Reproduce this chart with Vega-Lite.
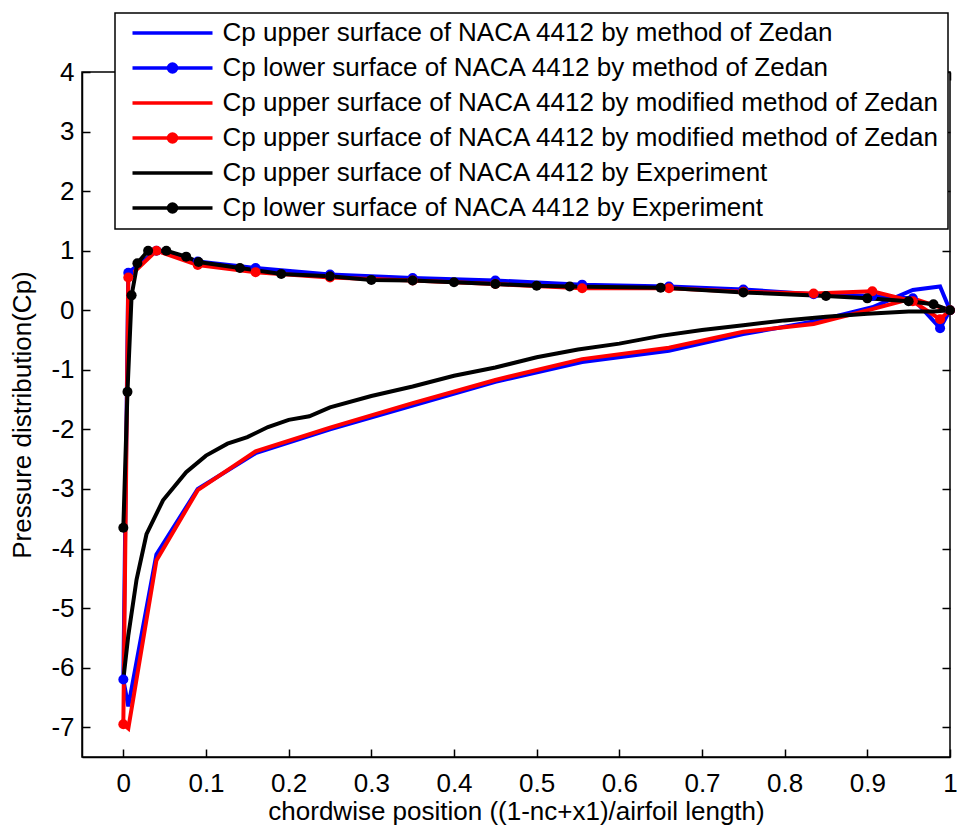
{
  "$schema": "https://vega.github.io/schema/vega-lite/v6.json",
  "width": 868,
  "height": 685,
  "autosize": {"type": "none"},
  "padding": {"left": 82, "top": 72, "right": 7, "bottom": 72},
  "background": "white",
  "config": {
    "view": {"stroke": "black", "strokeWidth": 1.5},
    "axis": {
      "labelFont": "Liberation Sans",
      "labelFontSize": 26,
      "labelColor": "black",
      "titleFont": "Liberation Sans",
      "titleFontSize": 26,
      "titleFontWeight": "normal",
      "titleColor": "black",
      "domainColor": "black",
      "domainWidth": 1.5,
      "tickColor": "black",
      "tickWidth": 1.5,
      "tickSize": -8,
      "grid": false
    }
  },
  "data": {
    "values": [
      {"series": "s1", "x": 0, "cp": -6.2},
      {"series": "s1", "x": 0.006, "cp": -6.65},
      {"series": "s1", "x": 0.04, "cp": -4.1},
      {"series": "s1", "x": 0.09, "cp": -3.0},
      {"series": "s1", "x": 0.16, "cp": -2.4},
      {"series": "s1", "x": 0.25, "cp": -2.0},
      {"series": "s1", "x": 0.35, "cp": -1.6},
      {"series": "s1", "x": 0.45, "cp": -1.2},
      {"series": "s1", "x": 0.555, "cp": -0.87},
      {"series": "s1", "x": 0.66, "cp": -0.68},
      {"series": "s1", "x": 0.75, "cp": -0.4},
      {"series": "s1", "x": 0.835, "cp": -0.19},
      {"series": "s1", "x": 0.906, "cp": 0.05},
      {"series": "s1", "x": 0.955, "cp": 0.34},
      {"series": "s1", "x": 0.988, "cp": 0.4},
      {"series": "s1", "x": 1.0, "cp": 0.0},

      {"series": "s2", "x": 0, "cp": -6.2},
      {"series": "s2", "x": 0.006, "cp": 0.63},
      {"series": "s2", "x": 0.04, "cp": 1.0},
      {"series": "s2", "x": 0.09, "cp": 0.82},
      {"series": "s2", "x": 0.16, "cp": 0.71},
      {"series": "s2", "x": 0.25, "cp": 0.6},
      {"series": "s2", "x": 0.35, "cp": 0.54},
      {"series": "s2", "x": 0.45, "cp": 0.5},
      {"series": "s2", "x": 0.555, "cp": 0.43},
      {"series": "s2", "x": 0.66, "cp": 0.4},
      {"series": "s2", "x": 0.75, "cp": 0.35},
      {"series": "s2", "x": 0.835, "cp": 0.27},
      {"series": "s2", "x": 0.906, "cp": 0.24},
      {"series": "s2", "x": 0.955, "cp": 0.2},
      {"series": "s2", "x": 0.988, "cp": -0.3},
      {"series": "s2", "x": 1.0, "cp": 0.0},

      {"series": "s3", "x": 0, "cp": -6.95},
      {"series": "s3", "x": 0.006, "cp": -7.02},
      {"series": "s3", "x": 0.04, "cp": -4.2},
      {"series": "s3", "x": 0.09, "cp": -3.02},
      {"series": "s3", "x": 0.16, "cp": -2.37},
      {"series": "s3", "x": 0.25, "cp": -1.97},
      {"series": "s3", "x": 0.35, "cp": -1.56},
      {"series": "s3", "x": 0.45, "cp": -1.17},
      {"series": "s3", "x": 0.555, "cp": -0.82},
      {"series": "s3", "x": 0.66, "cp": -0.63},
      {"series": "s3", "x": 0.75, "cp": -0.36},
      {"series": "s3", "x": 0.835, "cp": -0.23},
      {"series": "s3", "x": 0.906, "cp": 0.02},
      {"series": "s3", "x": 0.955, "cp": 0.2},
      {"series": "s3", "x": 0.988, "cp": 0.05},
      {"series": "s3", "x": 1.0, "cp": 0.0},

      {"series": "s4", "x": 0, "cp": -6.95},
      {"series": "s4", "x": 0.006, "cp": 0.55},
      {"series": "s4", "x": 0.04, "cp": 1.0},
      {"series": "s4", "x": 0.09, "cp": 0.76},
      {"series": "s4", "x": 0.16, "cp": 0.64},
      {"series": "s4", "x": 0.25, "cp": 0.55},
      {"series": "s4", "x": 0.35, "cp": 0.5},
      {"series": "s4", "x": 0.45, "cp": 0.44},
      {"series": "s4", "x": 0.555, "cp": 0.37},
      {"series": "s4", "x": 0.66, "cp": 0.37},
      {"series": "s4", "x": 0.75, "cp": 0.31},
      {"series": "s4", "x": 0.835, "cp": 0.28},
      {"series": "s4", "x": 0.906, "cp": 0.32},
      {"series": "s4", "x": 0.955, "cp": 0.15},
      {"series": "s4", "x": 0.988, "cp": -0.15},
      {"series": "s4", "x": 1.0, "cp": 0.0},

      {"series": "s5", "x": 0, "cp": -6.2},
      {"series": "s5", "x": 0.006, "cp": -5.46},
      {"series": "s5", "x": 0.016, "cp": -4.52},
      {"series": "s5", "x": 0.028, "cp": -3.76},
      {"series": "s5", "x": 0.048, "cp": -3.19},
      {"series": "s5", "x": 0.076, "cp": -2.72},
      {"series": "s5", "x": 0.1, "cp": -2.44},
      {"series": "s5", "x": 0.126, "cp": -2.24},
      {"series": "s5", "x": 0.15, "cp": -2.13},
      {"series": "s5", "x": 0.175, "cp": -1.96},
      {"series": "s5", "x": 0.2, "cp": -1.84},
      {"series": "s5", "x": 0.225, "cp": -1.78},
      {"series": "s5", "x": 0.25, "cp": -1.63},
      {"series": "s5", "x": 0.3, "cp": -1.44},
      {"series": "s5", "x": 0.35, "cp": -1.28},
      {"series": "s5", "x": 0.4, "cp": -1.1},
      {"series": "s5", "x": 0.45, "cp": -0.96},
      {"series": "s5", "x": 0.5, "cp": -0.79},
      {"series": "s5", "x": 0.55, "cp": -0.66},
      {"series": "s5", "x": 0.6, "cp": -0.56},
      {"series": "s5", "x": 0.65, "cp": -0.43},
      {"series": "s5", "x": 0.7, "cp": -0.33},
      {"series": "s5", "x": 0.75, "cp": -0.25},
      {"series": "s5", "x": 0.8, "cp": -0.17},
      {"series": "s5", "x": 0.85, "cp": -0.11},
      {"series": "s5", "x": 0.9, "cp": -0.06},
      {"series": "s5", "x": 0.95, "cp": -0.02},
      {"series": "s5", "x": 0.98, "cp": -0.02},
      {"series": "s5", "x": 1.0, "cp": 0.0},

      {"series": "s6", "x": 0, "cp": -3.65},
      {"series": "s6", "x": 0.005, "cp": -1.37},
      {"series": "s6", "x": 0.01, "cp": 0.25},
      {"series": "s6", "x": 0.017, "cp": 0.79},
      {"series": "s6", "x": 0.03, "cp": 1.0},
      {"series": "s6", "x": 0.052, "cp": 1.0},
      {"series": "s6", "x": 0.076, "cp": 0.9},
      {"series": "s6", "x": 0.091, "cp": 0.81},
      {"series": "s6", "x": 0.141, "cp": 0.71},
      {"series": "s6", "x": 0.191, "cp": 0.61},
      {"series": "s6", "x": 0.25, "cp": 0.57},
      {"series": "s6", "x": 0.3, "cp": 0.51},
      {"series": "s6", "x": 0.35, "cp": 0.5},
      {"series": "s6", "x": 0.4, "cp": 0.47},
      {"series": "s6", "x": 0.45, "cp": 0.44},
      {"series": "s6", "x": 0.5, "cp": 0.41},
      {"series": "s6", "x": 0.54, "cp": 0.4},
      {"series": "s6", "x": 0.65, "cp": 0.38},
      {"series": "s6", "x": 0.75, "cp": 0.3},
      {"series": "s6", "x": 0.85, "cp": 0.24},
      {"series": "s6", "x": 0.9, "cp": 0.2},
      {"series": "s6", "x": 0.95, "cp": 0.15},
      {"series": "s6", "x": 0.98, "cp": 0.1},
      {"series": "s6", "x": 1.0, "cp": 0.0}
    ]
  },
  "layer": [
    {
      "mark": {"type": "line", "strokeWidth": 4, "interpolate": "linear"},
      "encoding": {
        "x": {
          "field": "x", "type": "quantitative",
          "scale": {"domain": [-0.05, 1], "nice": false, "zero": false},
          "axis": {
            "orient": "bottom",
            "values": [0, 0.1, 0.2, 0.3, 0.4, 0.5, 0.6, 0.7, 0.8, 0.9, 1],
            "format": "~g",
            "labelPadding": 21,
            "labelFlush": false,
            "title": "chordwise position ((1-nc+x1)/airfoil length)",
            "titlePadding": 2
          }
        },
        "y": {
          "field": "cp", "type": "quantitative",
          "scale": {"domain": [-7.5, 4], "nice": false, "zero": false},
          "axis": {
            "orient": "left",
            "values": [4, 3, 2, 1, 0, -1, -2, -3, -4, -5, -6, -7],
            "format": "~g",
            "labelExpr": "replace(datum.label, '\u2212', '-')",
            "labelPadding": 16,
            "labelFlush": false,
            "title": "Pressure distribution(Cp)",
            "titlePadding": 15
          }
        },
        "color": {
          "field": "series", "type": "nominal",
          "scale": {"domain": ["s1", "s2", "s3", "s4", "s5", "s6"], "range": ["#0000ff", "#0000ff", "#ff0000", "#ff0000", "#000000", "#000000"]},
          "legend": {
            "orient": "none",
            "legendX": 33,
            "legendY": -59,
            "title": null,
            "padding": 8,
            "strokeColor": "black",
            "fillColor": "white",
            "symbolSize": 6400,
            "symbolStrokeWidth": 3,
            "symbolOffset": 7.5,
            "clipHeight": 24,
            "rowPadding": 9.0,
            "labelOffset": 8,
            "labelFont": "Liberation Sans",
            "labelFontSize": 26,
            "labelColor": "black",
            "labelLimit": 2000,
            "labelExpr": "{'s1': 'Cp upper surface of NACA 4412 by method of Zedan', 's2': 'Cp lower surface of NACA 4412 by method of Zedan', 's3': 'Cp upper surface of NACA 4412 by modified method of Zedan', 's4': 'Cp upper surface of NACA 4412 by modified method of Zedan', 's5': 'Cp upper surface of NACA 4412 by Experiment', 's6': 'Cp lower surface of NACA 4412 by Experiment'}[datum.value]",
            "encode": {
              "symbols": {
                "update": {
                  "shape": {"signal": "(datum.value == 's2' || datum.value == 's4' || datum.value == 's6') ? 'M-1,0H1M0.1,0A0.1,0.1 0 1,1 -0.1,0A0.1,0.1 0 1,1 0.1,0Z' : 'M-1,0H1'"},
                  "fill": {"signal": "datum.value == 's2' ? '#0000ff' : datum.value == 's4' ? '#ff0000' : datum.value == 's6' ? '#000000' : 'transparent'"},
                  "strokeWidth": {"value": 3.5},
                  "opacity": {"value": 1}
                }
              },
              "legend": {"update": {"strokeWidth": {"value": 1.5}}}
            }
          }
        }
      }
    },
    {
      "transform": [{"filter": "datum.series == 's2' || datum.series == 's4' || datum.series == 's6'"}],
      "mark": {"type": "circle", "size": 100, "opacity": 1},
      "encoding": {
        "x": {
          "field": "x", "type": "quantitative",
          "axis": {"orient": "top", "values": [0, 0.1, 0.2, 0.3, 0.4, 0.5, 0.6, 0.7, 0.8, 0.9, 1], "labels": false, "domain": false, "title": null}
        },
        "y": {
          "field": "cp", "type": "quantitative",
          "axis": {"orient": "right", "values": [4, 3, 2, 1, 0, -1, -2, -3, -4, -5, -6, -7], "labels": false, "domain": false, "title": null}
        },
        "color": {"field": "series", "type": "nominal", "legend": null}
      }
    }
  ],
  "resolve": {"axis": {"x": "independent", "y": "independent"}}
}
